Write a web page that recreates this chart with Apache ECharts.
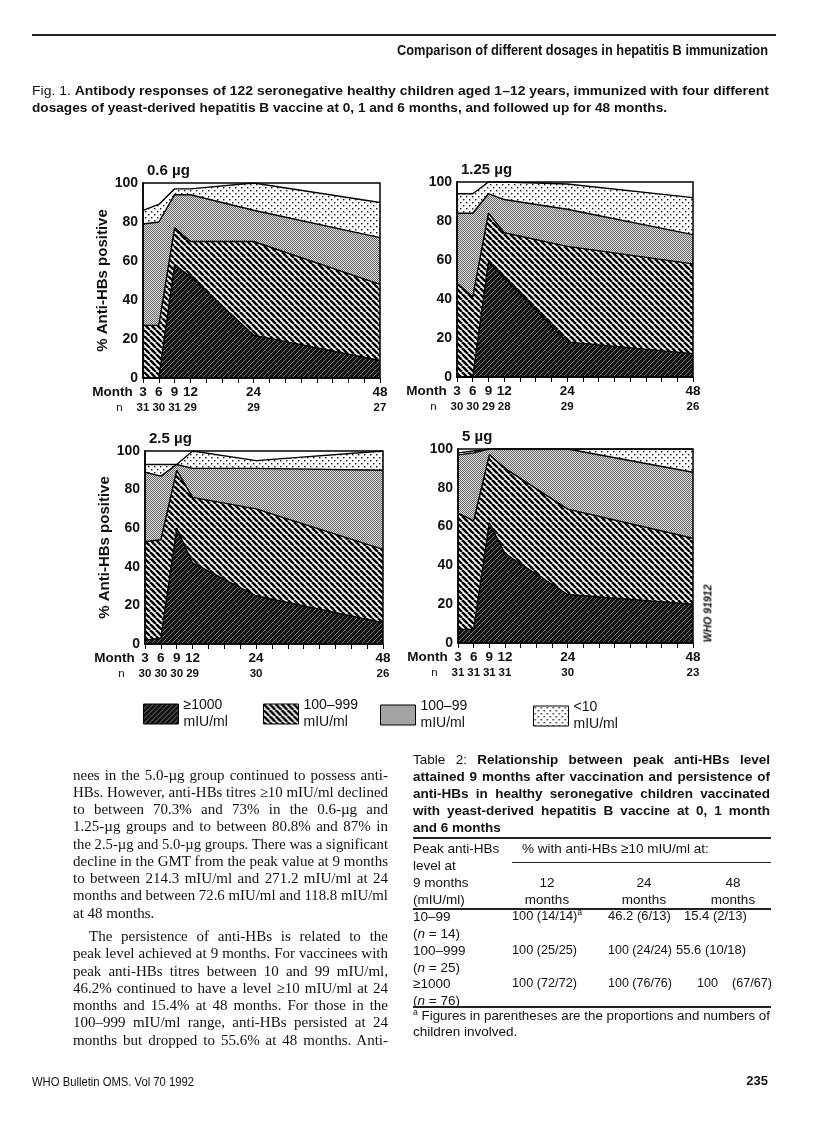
<!DOCTYPE html>
<html><head><meta charset="utf-8">
<script src="https://cdn.jsdelivr.net/npm/echarts@6/dist/echarts.min.js"></script>
<style>
html,body{margin:0;padding:0;background:#fff;}
#page{position:relative;width:816px;height:1134px;overflow:hidden;background:#fff;}
#chart{position:absolute;left:0;top:0;width:816px;height:1134px;}
.t{position:absolute;white-space:nowrap;color:#111;transform-origin:0 50%;}
.sans{font-family:"Liberation Sans","Helvetica",Arial,sans-serif;}
.narrow{font-family:"Liberation Sans Narrow","Liberation Sans","Helvetica",Arial,sans-serif;}
.serif{font-family:"Liberation Serif","Times New Roman",serif;}
.rule{position:absolute;background:#222;}
sup{font-size:65%;vertical-align:baseline;position:relative;top:-5px;line-height:0;}
</style></head><body><div id="page"><div id="chart"></div></div>
<script>
// ---------------- DATA (cumulative % boundaries) ----------------
const months = [3, 6, 9, 12, 24, 48];
const labeledMonths = [3, 6, 9, 12, 24, 48];
const doseTitles = ['0.6 µg', '1.25 µg', '2.5 µg', '5 µg'];
const classNames = ['≥1000', '100–999', '100–99', '<10'];

// 0.6 µg
const n06     = [31, 30, 31, 29, 29, 27];
const ge1000_06 = [0, 0, 58, 52, 22, 9];
const ge100_06  = [27, 27, 77, 70, 70, 48];
const ge10_06   = [79, 80, 94, 94, 86, 72];
const total_06  = [86, 89, 97, 97, 100, 90];
// 1.25 µg
const n125      = [30, 30, 29, 28, 29, 26];
const ge1000_125 = [0, 0, 59, 51, 18, 12];
const ge100_125  = [48, 41, 84, 74, 67, 58];
const ge10_125   = [84, 84, 94, 91, 86, 73];
const total_125  = [94, 94, 100, 100, 99, 92];
// 2.5 µg
const n25       = [30, 30, 30, 29, 30, 26];
const ge1000_25 = [2, 3, 60, 42, 25, 11];
const ge100_25  = [53, 54, 90, 76, 70, 49];
const ge10_25   = [89, 87, 93, 91, 91, 90];
const total_25  = [93, 93, 93, 100, 95, 100];
// 5 µg
const n5        = [31, 31, 31, 31, 30, 23];
const ge1000_5  = [7, 7, 62, 46, 25, 20];
const ge100_5   = [67, 63, 97, 90, 69, 54];
const ge10_5    = [97, 98, 100, 100, 100, 88];
const total_5   = [98, 99, 100, 100, 100, 100];

const yTicks = [0, 20, 40, 60, 80, 100];

// ---------------- patterns ----------------
function tile(w, h, draw) {
  const c = document.createElement('canvas'); c.width = w; c.height = h;
  const g = c.getContext('2d'); draw(g, w, h);
  return { image: c, repeat: 'repeat' };
}
const patDark = tile(5, 5, (g, w, h) => {
  g.fillStyle = '#121212'; g.fillRect(0, 0, w, h);
  g.strokeStyle = '#7e7e7e'; g.lineWidth = 0.9;
  for (const k of [-5, 0, 5]) { g.beginPath(); g.moveTo(k, h); g.lineTo(k + w, 0); g.stroke(); }
});
const patStripe = tile(6, 6, (g, w, h) => {
  g.fillStyle = '#fff'; g.fillRect(0, 0, w, h);
  g.strokeStyle = '#000'; g.lineWidth = 2.6;
  for (const k of [-6, 0, 6]) { g.beginPath(); g.moveTo(k, 0); g.lineTo(k + w, h); g.stroke(); }
});
const patGray = tile(2, 2, (g) => {
  g.fillStyle = '#e0e0e0'; g.fillRect(0, 0, 2, 2);
  g.fillStyle = '#666'; g.fillRect(0, 0, 1, 1); g.fillRect(1, 1, 1, 1);
});
const patDots = tile(6, 6, (g) => {
  g.fillStyle = '#fff'; g.fillRect(0, 0, 6, 6);
  g.fillStyle = '#111'; g.fillRect(1, 1, 1.4, 1.4); g.fillRect(4, 4, 1.4, 1.4);
});

// ---------------- chart ----------------
const FONT = '"Liberation Sans", Helvetica, Arial, sans-serif';
const grids = [
  { left: 143, top: 183, width: 237, height: 195 },
  { left: 457, top: 182, width: 236, height: 195 },
  { left: 145, top: 451, width: 238, height: 193 },
  { left: 458, top: 449, width: 235, height: 194 }
];
const nRows = [n06, n125, n25, n5];
const layerSets = [
  [total_06, ge10_06, ge100_06, ge1000_06],
  [total_125, ge10_125, ge100_125, ge1000_125],
  [total_25, ge10_25, ge100_25, ge1000_25],
  [total_5, ge10_5, ge100_5, ge1000_5]
];
const layerPats = [patDots, patGray, patStripe, patDark];
const layerNames = [classNames[3], classNames[2], classNames[1], classNames[0]];

const option = {
  animation: false,
  title: grids.map((g, i) => ({
    text: doseTitles[i], left: g.left + 4, top: g.top - 20, padding: 0,
    textStyle: { fontFamily: FONT, fontSize: 15, fontWeight: 'bold', color: '#111' }
  })),
  grid: grids.map(g => Object.assign({ show: true, borderColor: '#000', borderWidth: 1.5, backgroundColor: 'transparent', z: 10 }, g)),
  xAxis: grids.map((g, i) => ({
    type: 'value', gridIndex: i, min: 3, max: 48, interval: 3, z: 10,
    axisLine: { show: true, onZero: false, lineStyle: { color: '#000', width: 1.5 } },
    axisTick: { show: true, length: 5, lineStyle: { color: '#000', width: 1 } },
    splitLine: { show: false },
    axisLabel: {
      margin: 6, color: '#111',
      formatter: v => {
        const k = labeledMonths.indexOf(v);
        return k < 0 ? '' : '{m|' + v + '}\n{n|' + nRows[i][k] + '}';
      },
      rich: {
        m: { fontFamily: FONT, fontSize: 13.5, fontWeight: 'bold', lineHeight: 16, color: '#111' },
        n: { fontFamily: FONT, fontSize: 11.5, fontWeight: 'bold', lineHeight: 16, color: '#111' }
      }
    },
    name: '{m|Month}\n{n|n}', nameLocation: 'start', nameGap: 10,
    nameTextStyle: {
      verticalAlign: 'top', align: 'right', padding: [6, 0, 0, 0],
      rich: {
        m: { fontFamily: FONT, fontSize: 13.5, fontWeight: 'bold', lineHeight: 16, color: '#111', align: 'right' },
        n: { fontFamily: FONT, fontSize: 11.5, lineHeight: 16, color: '#111', align: 'right', padding: [0, 10, 0, 0] }
      }
    }
  })),
  yAxis: grids.map((g, i) => ({
    type: 'value', gridIndex: i, min: yTicks[0], max: yTicks[yTicks.length - 1], interval: 20, z: 10,
    axisLine: { show: true, lineStyle: { color: '#000', width: 1.5 } },
    axisTick: { show: false },
    splitLine: { show: false },
    axisLabel: { margin: 5, color: '#111', fontFamily: FONT, fontSize: 14, fontWeight: 'bold' },
    name: (i % 2 === 0) ? '% Anti-HBs positive' : '',
    nameLocation: 'middle', nameGap: 31, nameRotate: 90,
    nameTextStyle: { fontFamily: FONT, fontSize: 15, fontWeight: 'bold', color: '#111' }
  })),
  legend: [
    { left: 143, top: 697 }, { left: 263, top: 697 }, { left: 380, top: 698 }, { left: 533, top: 699 }
  ].map((p, k) => ({
    data: [classNames[k]], left: p.left, top: p.top, padding: 0,
    icon: 'rect', itemWidth: 35, itemHeight: 20, itemGap: 5, selectedMode: false,
    itemStyle: { borderColor: '#000', borderWidth: 1 },
    formatter: name => name + '\nmIU/ml',
    textStyle: { fontFamily: FONT, fontSize: 14, lineHeight: 17, color: '#111' }
  })),
  series: []
};

grids.forEach((g, i) => {
  layerSets[i].forEach((arr, j) => {
    option.series.push({
      type: 'line', name: layerNames[j], xAxisIndex: i, yAxisIndex: i,
      data: months.map((m, k) => [m, arr[k]]),
      symbol: 'none', silent: true, z: 2 + j,
      lineStyle: { color: '#000', width: 1.4 },
      itemStyle: { color: layerPats[j] },
      areaStyle: { color: layerPats[j], opacity: 1 }
    });
  });
});

const chart = echarts.init(document.getElementById('chart'), null, { renderer: 'canvas' });
chart.setOption(option);

// ---------------- page text ----------------
const page = document.getElementById('page');
function put(html, x, y, opts) {
  const o = Object.assign({ fs: 14, cls: 'sans' }, opts || {});
  const d = document.createElement('div');
  d.className = 't ' + o.cls;
  d.innerHTML = html;
  d.style.fontSize = o.fs + 'px';
  d.style.lineHeight = Math.round(o.fs * 1.25) + 'px';
  d.style.height = Math.round(o.fs * 1.25) + 'px';
  if (o.bold) d.style.fontWeight = 'bold';
  if (o.italic) d.style.fontStyle = 'italic';
  d.style.top = (y - o.fs * 0.625) + 'px';
  d.style.left = x + 'px';
  page.appendChild(d);
  const nat = d.getBoundingClientRect().width;
  let shown = nat;
  if (o.w) {
    if (o.fit || nat > o.w) { d.style.transform = 'scaleX(' + (o.w / nat) + ')'; shown = o.w; }
    else if (o.justify) {
      const sp = (d.textContent.match(/ /g) || []).length;
      if (sp) d.style.wordSpacing = ((o.w - nat) / sp) + 'px';
      shown = o.w;
    }
  }
  if (o.center) d.style.left = (x - shown / 2) + 'px';
  if (o.right) d.style.left = (x - shown) + 'px';
  return d;
}
function rule(x, y, w, h) {
  const r = document.createElement('div'); r.className = 'rule';
  r.style.left = x + 'px'; r.style.top = y + 'px'; r.style.width = w + 'px'; r.style.height = h + 'px';
  page.appendChild(r);
}

rule(32, 34, 744, 1.5);
put('Comparison of different dosages in hepatitis B immunization', 397, 50, { cls: 'narrow', bold: true, fs: 14, w: 371, fit: true });
put('Fig. 1. <b>Antibody responses of 122 seronegative healthy children aged 1–12 years, immunized with four different</b>', 32, 90, { cls: 'narrow', fs: 13.5, w: 737, fit: true });
put('<b>dosages of yeast-derived hepatitis B vaccine at 0, 1 and 6 months, and followed up for 48 months.</b>', 32, 107, { cls: 'narrow', fs: 13.5, w: 635, fit: true });

// WHO code (rotated)
const who = put('<b><i>WHO 91912</i></b>', 705, 614, { fs: 10.5, w: 53, fit: true, center: true });
who.style.transformOrigin = '50% 50%';
who.style.transform = 'rotate(-90deg) scaleX(' + (53 / who.getBoundingClientRect().width) + ')';

// Body text (left column)
const body = [
  ['nees in the 5.0-µg group continued to possess anti-', 775, 73, true],
  ['HBs. However, anti-HBs titres ≥10 mIU/ml declined', 792, 73, true],
  ['to between 70.3% and 73% in the 0.6-µg and', 809, 73, true],
  ['1.25-µg groups and to between 80.8% and 87% in', 826, 73, true],
  ['the 2.5-µg and 5.0-µg groups. There was a significant', 844, 73, true],
  ['decline in the GMT from the peak value at 9 months', 861, 73, true],
  ['to between 214.3 mIU/ml and 271.2 mIU/ml at 24', 878, 73, true],
  ['months and between 72.6 mIU/ml and 118.8 mIU/ml', 895, 73, true],
  ['at 48 months.', 913, 73, false],
  ['The persistence of anti-HBs is related to the', 936, 89, true],
  ['peak level achieved at 9 months. For vaccinees with', 953, 73, true],
  ['peak anti-HBs titres between 10 and 99 mIU/ml,', 971, 73, true],
  ['46.2% continued to have a level ≥10 mIU/ml at 24', 988, 73, true],
  ['months and 15.4% at 48 months. For those in the', 1005, 73, true],
  ['100–999 mIU/ml range, anti-HBs persisted at 24', 1022, 73, true],
  ['months but dropped to 55.6% at 48 months. Anti-', 1040, 73, true]
];
body.forEach(([t, y, x, j]) => put(t, x, y, { cls: 'serif', fs: 15, w: j ? 388 - x : null, justify: j }));

// Table 2
const tcap = [
  ['Table 2: <b>Relationship between peak anti-HBs level</b>', 759, true],
  ['<b>attained 9 months after vaccination and persistence of</b>', 776, true],
  ['<b>anti-HBs in healthy seronegative children vaccinated</b>', 793, true],
  ['<b>with yeast-derived hepatitis B vaccine at 0, 1 month</b>', 810, true],
  ['<b>and 6 months</b>', 827, false]
];
tcap.forEach(([t, y, j]) => put(t, 413, y, { fs: 13.5, w: j ? 357 : null, justify: j }));
rule(413, 837, 358, 1.5);
const TF = 13.5;
put('Peak anti-HBs', 413, 848, { fs: TF });
put('% with anti-HBs ≥10 mIU/ml at:', 522, 848, { fs: TF, w: 230 });
rule(512, 862, 259, 1.2);
put('level at', 413, 865, { fs: TF });
put('9 months', 413, 882, { fs: TF });
put('(mIU/ml)', 413, 899, { fs: TF });
[[547, '12'], [644, '24'], [733, '48']].forEach(([cx, m]) => {
  put(m, cx, 882, { fs: TF, center: true });
  put('months', cx, 899, { fs: TF, center: true });
});
rule(413, 908, 358, 1.5);
const CF = 13;
const rows = [
  [916, '10–99', [[512, '100 (14/14)<sup>a</sup>', 70], [608, '46.2 (6/13)', 64], [684, '15.4 (2/13)', 64]], 933, '(<i>n</i> = 14)'],
  [950, '100–999', [[512, '100 (25/25)', 65], [608, '100 (24/24)', 64], [676, '55.6 (10/18)', 84]], 967, '(<i>n</i> = 25)'],
  [983, '≥1000', [[512, '100 (72/72)', 65], [608, '100 (76/76)', 64], [697, '100&nbsp;&nbsp;&nbsp;&nbsp;(67/67)', 75]], 1000, '(<i>n</i> = 76)']
];
rows.forEach(([y, lab, cells, y2, nlab]) => {
  put(lab, 413, y, { fs: TF });
  cells.forEach(([x, t, w]) => put(t, x, y, { fs: CF, w: w }));
  put(nlab, 413, y2, { fs: TF });
});
rule(413, 1006, 358, 1.5);
put('<sup>a</sup> Figures in parentheses are the proportions and numbers of', 413, 1015, { fs: TF, w: 357, justify: true });
put('children involved.', 413, 1031, { fs: TF });

// Footer
put('WHO Bulletin OMS. Vol 70 1992', 32, 1082, { cls: 'narrow', fs: 12, w: 162, fit: true });
put('<b>235</b>', 768, 1081, { cls: 'narrow', fs: 13, right: true });
</script></body></html>
